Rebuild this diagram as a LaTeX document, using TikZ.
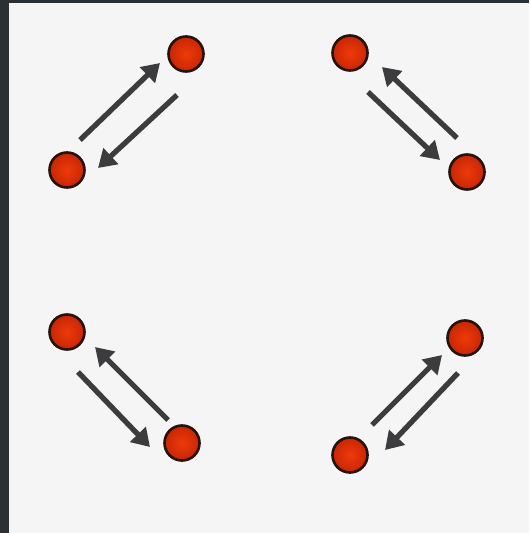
\documentclass[tikz,border=0pt]{standalone}
\usepackage{xcolor}
\usetikzlibrary{arrows.meta}

\definecolor{frame}{RGB}{43,48,53}
\definecolor{paper}{RGB}{245,245,245}
\definecolor{dotred}{RGB}{238,58,10}
\definecolor{dotdark}{RGB}{200,38,4}
\definecolor{rim}{RGB}{40,18,10}
\definecolor{arrowgray}{RGB}{60,60,62}

\begin{document}
\begin{tikzpicture}[
  x=0.02cm, y=-0.02cm,
  >={Triangle[length=10pt,width=12pt]},
  particle/.style={circle, draw=rim, line width=1.5pt, minimum size=0.7cm, inner sep=0pt,
                   inner color=dotred, outer color=dotdark},
  flow/.style={->, line width=3pt, arrowgray}
]
  \fill[frame] (0,0) rectangle (529,533);
  \fill[paper] (9,3) rectangle (529,533);
  \useasboundingbox (0,0) rectangle (529,533);

  \node[particle] (a1) at (186,54) {};
  \node[particle] (a2) at (67,170) {};
  \node[particle] (b1) at (350,53) {};
  \node[particle] (b2) at (467,172) {};
  \node[particle] (c1) at (67,332) {};
  \node[particle] (c2) at (182,443) {};
  \node[particle] (d1) at (465,338) {};
  \node[particle] (d2) at (350,455) {};

  \draw[flow] ([shift={(13,-30)}]a2.center) -- ([shift={(-26,9)}]a1.center);
  \draw[flow] ([shift={(-9,41)}]a1.center) -- ([shift={(31,-2)}]a2.center);

  \draw[flow] ([shift={(-10,-34)}]b2.center) -- ([shift={(32,14)}]b1.center);
  \draw[flow] ([shift={(18,39)}]b1.center) -- ([shift={(-27,-12)}]b2.center);

  \draw[flow] ([shift={(-14,-23)}]c2.center) -- ([shift={(28,15)}]c1.center);
  \draw[flow] ([shift={(11,40)}]c1.center) -- ([shift={(-32,4)}]c2.center);

  \draw[flow] ([shift={(22,-30)}]d2.center) -- ([shift={(-23,17)}]d1.center);
  \draw[flow] ([shift={(-7,35)}]d1.center) -- ([shift={(35,-5)}]d2.center);
\end{tikzpicture}
\end{document}
